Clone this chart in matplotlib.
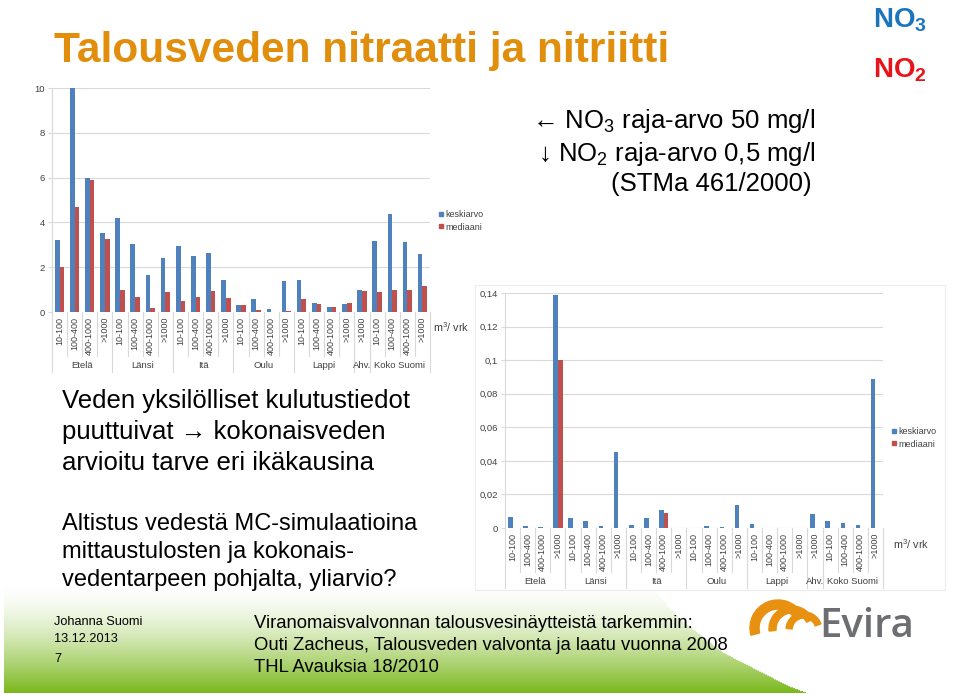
from __future__ import annotations

import matplotlib

matplotlib.use("Agg")
import matplotlib.pyplot as plt
import numpy as np
from matplotlib.lines import Line2D
from matplotlib.patches import Rectangle, Wedge

W, H = 960, 696

# --- data -----------------------------------------------------------------
size_classes = ["10-100", "100-400", "400-1000", ">1000"]
regions = ["Etelä", "Länsi", "Itä", "Oulu", "Lappi", "Ahv.", "Koko Suomi"]
region_classes = [size_classes] * 5 + [[">1000"]] + [size_classes]
categories = [c for cls in region_classes for c in cls]

# nitrate (NO3), mg/l
no3_keskiarvo = [3.21, 10.0, 5.99, 3.51, 4.18, 3.05, 1.63, 2.42, 2.96, 2.48, 2.64, 1.43,
                 0.33, 0.58, 0.15, 1.38, 1.43, 0.40, 0.21, 0.34, 0.97, 3.15, 4.37, 3.11, 2.57]
no3_mediaani = [1.99, 4.68, 5.88, 3.28, 1.00, 0.67, 0.19, 0.89, 0.49, 0.68, 0.94, 0.64,
                0.30, 0.09, 0.0, 0.04, 0.56, 0.37, 0.21, 0.39, 0.95, 0.89, 1.00, 1.00, 1.17]
no3_ticks = [0, 2, 4, 6, 8, 10]
no3_ticklabels = ["0", "2", "4", "6", "8", "10"]

# nitrite (NO2), mg/l
no2_keskiarvo = [0.0068, 0.0014, 0.0006, 0.1386, 0.0062, 0.0044, 0.0012, 0.0453, 0.0016, 0.0062,
                 0.0107, 0.0, 0.0, 0.0010, 0.0006, 0.0135, 0.0026, 0.0, 0.0, 0.0, 0.0084, 0.0044,
                 0.0032, 0.0018, 0.0887]
no2_mediaani = [0.0, 0.0, 0.0, 0.100, 0.0, 0.0, 0.0, 0.0, 0.0, 0.0, 0.009, 0.0, 0.0, 0.0, 0.0,
                0.0, 0.0, 0.0, 0.0, 0.0, 0.0, 0.0, 0.0, 0.0, 0.0]
no2_ticks = [0, 0.02, 0.04, 0.06, 0.08, 0.10, 0.12, 0.14]
no2_ticklabels = ["0", "0,02", "0,04", "0,06", "0,08", "0,1", "0,12", "0,14"]

BLUE = "#4f81bd"
RED = "#c0504d"
GRID = "#d9d9d9"
AXTXT = "#404040"

plt.rcParams["font.family"] = ["Liberation Sans", "DejaVu Sans"]
plt.rcParams["mathtext.fontset"] = "custom"
plt.rcParams["mathtext.rm"] = "Liberation Sans"
plt.rcParams["mathtext.it"] = "Liberation Sans:italic"
plt.rcParams["mathtext.bf"] = "Liberation Sans:bold"


def px_rect(left, top, right, bottom):
    return [left / W, 1 - bottom / H, (right - left) / W, (bottom - top) / H]


def draw_chart(fig, rect, mean, median, ticks, ticklabels, legend_xy, unit_xy):
    ax = fig.add_axes(px_rect(*rect))
    ax.patch.set_alpha(0)
    h_px = rect[3] - rect[1]
    x = np.arange(len(categories))
    w = 0.31
    ax.bar(x - w / 2, mean, w, color=BLUE, zorder=3)
    ax.bar(x + w / 2, median, w, color=RED, zorder=3)
    ax.set_xlim(-0.5, len(categories) - 0.5)
    ax.set_ylim(ticks[0], ticks[-1])
    ax.set_yticks(ticks)
    ax.set_yticklabels(ticklabels)
    ax.yaxis.grid(True, color=GRID, lw=0.8)
    ax.set_axisbelow(True)
    for name, sp in ax.spines.items():
        sp.set_visible(name == "left")
    ax.spines["left"].set_color(GRID)
    ax.tick_params(axis="y", length=3, color=GRID, pad=2, labelsize=6.8, labelcolor=AXTXT)
    ax.set_xticks([])

    # multi-level category axis below the plot
    trans = ax.get_xaxis_transform()
    for i, lab in enumerate(categories):
        ax.text(i, -5 / h_px, lab, rotation=90, ha="center", va="top", transform=trans,
                fontsize=6.5, color=AXTXT)
    edges = np.cumsum([0] + [len(c) for c in region_classes]) - 0.5
    for b in np.arange(len(categories) + 1) - 0.5:
        depth = 60 if b in edges else 44
        ax.plot([b, b], [0, -depth / h_px], transform=trans, color=GRID, lw=0.8, clip_on=False)
    for start, cls, name in zip(edges[:-1], region_classes, regions):
        ax.text(start + len(cls) / 2, -54 / h_px, name, ha="center", va="center",
                transform=trans, fontsize=6.8, color=AXTXT)

    handles = [Line2D([], [], ls="", marker="s", ms=3.5, color=BLUE),
               Line2D([], [], ls="", marker="s", ms=3.5, color=RED)]
    ax.legend(handles, ["keskiarvo", "mediaani"], loc="center left",
              bbox_to_anchor=(legend_xy[0] / W, 1 - legend_xy[1] / H),
              bbox_transform=fig.transFigure, frameon=False, fontsize=6.5,
              handlelength=0.6, handletextpad=0.2, labelspacing=0.35,
              borderpad=0, borderaxespad=0, labelcolor=AXTXT)
    fig.text(unit_xy[0] / W, 1 - unit_xy[1] / H, "m$^3$/ vrk", fontsize=7.8,
             color=AXTXT, ha="left", va="center")
    return ax


def main() -> None:
    fig = plt.figure(figsize=(W / 100, H / 100), dpi=100)

    bg = fig.add_axes([0, 0, 1, 1])
    bg.set_xlim(0, W)
    bg.set_ylim(H, 0)
    bg.axis("off")

    # green gradient band at the bottom of the slide, cut by a white curve
    y0, y1 = 586, 693
    ys = np.linspace(y0, y1, 110)
    t = ((ys - y0) / (y1 - y0)) ** 1.5
    green = np.array([0.48, 0.72, 0.11])
    img = 1 - t[:, None, None] * (1 - green)[None, None, :]
    img = np.repeat(img, W, axis=1)
    curve_y = [586, 619, 653, 686, 693]
    curve_x = [650, 680, 723, 787, 805]
    xs = np.arange(W)
    for r, yy in enumerate(ys):
        img[r, xs > np.interp(yy, curve_y, curve_x)] = 1.0
    img[:, :4] = 1.0
    bg.imshow(img, extent=(0, W, y1, y0), aspect="auto", zorder=0, interpolation="bilinear")
    bg.set_xlim(0, W)
    bg.set_ylim(H, 0)

    # white box behind the nitrite chart
    bg.add_patch(Rectangle((475, 285), 470, 305, facecolor="white", edgecolor="#ececec",
                           lw=0.8, zorder=1))

    # title and NO3 / NO2 tags
    bg.text(54, 51, "Talousveden nitraatti ja nitriitti", fontsize=30.5, fontweight="bold",
            color="#e08e0b", va="center", ha="left", zorder=2)
    bg.text(873, 20, r"NO$_\mathbf{3}$", fontsize=20, fontweight="bold",
            color="#1b75bc", va="center", ha="left")
    bg.text(873, 70, r"NO$_\mathbf{2}$", fontsize=20, fontweight="bold",
            color="#e8141c", va="center", ha="left")

    # limit values
    lim_font = dict(fontsize=18.5, color="black")
    bg.text(815, 121, "\u2190 NO$_3$ raja-arvo 50 mg/l", ha="right", va="center", **lim_font)
    bg.text(815, 154, "\u2193 NO$_2$ raja-arvo 0,5 mg/l", ha="right", va="center", **lim_font)
    bg.text(812, 184, "(STMa 461/2000)", ha="right", va="center", **lim_font)

    # body text
    for y, line in zip([401, 432, 463], ["Veden yksilölliset kulutustiedot",
                                         "puuttuivat \u2192 kokonaisveden",
                                         "arvioitu tarve eri ikäkausina"]):
        bg.text(62, y, line, fontsize=18.5, va="center", ha="left")
    for y, line in zip([524, 552, 580], ["Altistus vedestä MC-simulaatioina",
                                         "mittaustulosten ja kokonais-",
                                         "vedentarpeen pohjalta, yliarvio?"]):
        bg.text(62, y, line, fontsize=17, va="center", ha="left")

    # footer
    for y, line in zip([622, 639, 659], ["Johanna Suomi", "13.12.2013", "7"]):
        bg.text(54, y, line, fontsize=9.2, va="center", ha="left", zorder=2)
    for y, line in zip([623, 646, 668], ["Viranomaisvalvonnan talousvesinäytteistä tarkemmin:",
                                         "Outi Zacheus, Talousveden valvonta ja laatu vuonna 2008",
                                         "THL Avauksia 18/2010"]):
        bg.text(254, y, line, fontsize=13.3, va="center", ha="left", zorder=2)

    # Evira logo
    orange = "#e8900f"
    for cx, cy, r, wd, th1, th2 in [(778, 628, 28, 9, 165, 330), (792, 629, 23, 7, 175, 335),
                                   (804, 630, 18, 6, 185, 340)]:
        bg.add_patch(Wedge((cx, cy), r, th1, th2, width=wd, color=orange, zorder=2))
    bg.text(819, 627, "Evira", fontsize=29, fontweight="semibold", color="#6d6e71",
            va="center", ha="left", family=["Open Sans", "Liberation Sans"], zorder=2)

    draw_chart(fig, (52, 88, 430, 312), no3_keskiarvo, no3_mediaani, no3_ticks, no3_ticklabels,
               legend_xy=(438, 221), unit_xy=(433, 327))
    draw_chart(fig, (505, 293, 883, 528), no2_keskiarvo, no2_mediaani, no2_ticks, no2_ticklabels,
               legend_xy=(891, 438), unit_xy=(893, 544))

    fig.savefig("out.png", dpi=100)


if __name__ == "__main__":
    main()
